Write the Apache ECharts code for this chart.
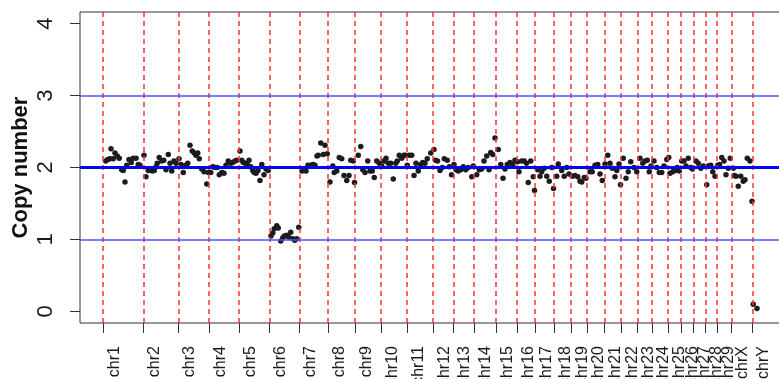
<!DOCTYPE html>
<html>
<head>
<meta charset="utf-8">
<script src="https://cdn.jsdelivr.net/npm/echarts@6/dist/echarts.min.js"></script>
<style>html,body{margin:0;padding:0;background:#fff;}#chart{width:779px;height:379px;}</style>
</head>
<body>
<div id="chart"></div>
<script>
// Chromosome names and start positions (Mb, cumulative)
const chromNames = ['chr1','chr2','chr3','chr4','chr5','chr6','chr7','chr8','chr9','chr10','chr11','chr12','chr13','chr14','chr15','chr16','chr17','chr18','chr19','chr20','chr21','chr22','chr23','chr24','chr25','chr26','chr27','chr28','chr29','chrX','chrY'];
const chromStarts = [0,161,301,424,544,665,785,899,1008,1112,1215,1319,1401,1484,1572,1655,1728,1804,1871,1935,2006,2072,2137,2196,2260,2312,2361,2409,2456,2513,2598];
const yTicks = [0,1,2,3,4];
const thinRefLines = [1,3];
const mainRefLine = [2];

// Segment positions (Mb) per chromosome
const positions = [
  [11,19,28,32,41,48,57,65,75,81,88,95,104,113,121,132,141,148],
  [164,172,181,188,197,205,212,217,225,235,243,252,261,268,275,284,292],
  [304,312,321,331,339,348,357,365,372,379,385,395,404,415,421],
  [431,439,448,457,465,475,484,492,501,511,519,528,535],
  [548,555,561,569,577,584,591,599,605,612,620,628,635,644,652,661],
  [672,679,685,695,701,711,719,725,735,743,751,759,767,775,783],
  [796,804,812,820,832,840,848,856,861,871,881,888,897],
  [908,919,925,935,945,955,964,975,984,991,1001,1006],
  [1021,1031,1039,1048,1059,1068,1077,1085,1095,1105],
  [1115,1124,1132,1141,1151,1161,1171,1177,1185,1195,1204,1210],
  [1217,1225,1235,1244,1252,1261,1271,1279,1288,1297,1311],
  [1324,1330,1338,1348,1357,1365,1377,1385,1394],
  [1404,1412,1421,1431,1441,1451,1461,1475,1481],
  [1495,1505,1515,1524,1535,1544,1551,1559,1568],
  [1581,1591,1600,1608,1617,1628,1639,1648],
  [1658,1664,1675,1685,1694,1701,1711,1721,1726],
  [1739,1748,1755,1765,1775,1785,1795,1802],
  [1815,1821,1835,1845,1855,1864],
  [1877,1888,1899,1908,1915,1925,1932],
  [1948,1957,1968,1979,1988,1997],
  [2008,2019,2028,2037,2048,2055,2064,2070],
  [2081,2092,2101,2111,2124,2135],
  [2148,2159,2168,2177,2185,2192],
  [2204,2215,2225,2235,2244,2255],
  [2263,2268,2279,2288,2297,2305],
  [2315,2324,2332,2341,2351,2358],
  [2372,2381,2391,2401],
  [2415,2421,2431,2439,2448],
  [2459,2466,2475,2484,2492,2501,2509],
  [2521,2525,2532,2541,2551,2561,2568,2577,2588,2596],
  [2601,2616]
];
// Copy number per segment
const copyNumber = [
  [2.09,2.11,2.12,2.26,2.12,2.2,2.16,2.13,1.97,1.96,1.8,2.03,2.11,2.07,2.13,2.13,2.04,2.03],
  [2.17,1.87,1.96,1.98,1.95,1.96,2.01,2.06,2.14,2.09,2.1,1.97,2.18,2.06,1.95,2.09,2.06],
  [2.12,2.04,1.93,2.03,2.06,2.31,2.23,2.2,2.17,2.2,2.12,1.98,1.94,1.77,1.93],
  [1.93,2.01,2.0,2.0,1.9,1.93,1.92,2.03,2.09,2.06,2.07,2.09,2.1],
  [2.23,2.1,2.07,2.06,2.04,2.1,2.01,1.96,1.93,1.92,1.96,1.82,2.04,1.9,1.98,1.96],
  [1.05,1.09,1.15,1.19,1.16,0.98,1.02,1.05,1.06,1.03,1.1,1.01,0.99,1.01,1.17],
  [1.95,1.97,1.95,2.03,2.03,2.04,2.03,2.16,2.17,2.34,2.18,2.31,2.19],
  [1.8,2.02,1.93,1.95,2.14,2.12,1.89,1.82,1.89,2.1,2.09,1.79],
  [2.17,2.29,1.97,1.93,2.09,1.95,1.95,1.86,2.09,2.06],
  [2.02,2.09,2.13,2.06,2.06,1.84,2.06,2.09,2.17,2.13,2.17,2.17],
  [2.03,2.17,2.17,1.89,2.06,1.95,2.04,2.07,2.06,2.12,2.2],
  [2.25,2.1,2.09,1.96,2.0,2.12,2.1,2.01,1.9],
  [2.04,1.97,1.95,1.97,2.01,1.97,2.0,1.87,2.02],
  [1.9,1.97,1.98,2.09,2.16,1.97,2.21,2.18,2.41],
  [2.25,2.04,1.85,1.98,2.04,2.07,2.04,2.1],
  [2.08,1.94,2.09,2.09,2.06,1.79,2.09,1.87,1.68],
  [1.97,1.88,1.94,1.99,1.88,1.81,2.0,1.71],
  [1.88,2.05,1.96,1.88,2.0,1.91],
  [1.88,1.89,1.87,1.81,1.8,1.86,1.85],
  [1.94,1.94,2.03,2.04,1.91,1.82],
  [2.05,2.17,2.06,1.99,1.87,1.96,2.05,1.76],
  [2.13,1.85,1.94,2.08,2.0,1.94],
  [2.13,2.06,2.09,2.1,1.94,2.02],
  [2.09,2.0,1.93,1.93,2.02,2.11],
  [2.14,1.92,1.94,1.96,2.0,1.95],
  [2.09,2.09,2.02,2.13,2.0,1.98],
  [2.09,2.06,1.99,2.02],
  [1.76,2.02,2.03,1.94,1.88],
  [2.03,2.04,2.14,2.09,1.9,1.99,2.13],
  [1.99,1.89,1.88,1.74,1.88,1.81,1.83,2.13,2.09,1.53],
  [0.1,0.04]
];

const labelShift = 46; // label offset to the right of chromosome start (axis units)
const points = [];
positions.forEach((arr, i) => arr.forEach((p, j) => points.push([p, copyNumber[i][j]])));

const labelValues = chromStarts.map(s => s + labelShift);

const chart = echarts.init(document.getElementById('chart'), null, {renderer: 'canvas'});
const font = 'Liberation Sans, Arial, Helvetica, sans-serif';

function lineSeries(items, style, z) {
  return {
    type: 'scatter', data: [], z: z, silent: true,
    markLine: {
      silent: true, symbol: ['none', 'none'], label: {show: false}, animation: false,
      lineStyle: style,
      emphasis: {disabled: true},
      data: items
    }
  };
}

chart.setOption({
  animation: false,
  backgroundColor: '#ffffff',
  grid: {left: 80, top: 12, right: -4, bottom: 56, show: true, borderColor: '#333', borderWidth: 1, backgroundColor: 'transparent', outerBoundsMode: 'none', containLabel: false},
  xAxis: {
    type: 'value', min: -92, max: 2720,
    axisLine: {show: false, onZero: false},
    splitLine: {show: false},
    axisTick: {show: true, customValues: chromStarts, length: 10, lineStyle: {color: '#333'}},
    axisLabel: {
      customValues: labelValues, rotate: 90, margin: 23, fontSize: 16, color: '#1a1a1a', fontFamily: font,
      formatter: v => { const i = labelValues.findIndex(x => Math.abs(x - v) < 0.5); return i >= 0 ? chromNames[i] : ''; }
    }
  },
  yAxis: {
    type: 'value', min: -0.16, max: 4.16,
    name: 'Copy number', nameLocation: 'middle', nameGap: 48, nameMoveOverlap: false,
    nameTextStyle: {fontSize: 22, fontWeight: 'bold', color: '#111', fontFamily: font},
    axisLine: {show: false, onZero: false},
    splitLine: {show: false},
    axisTick: {show: true, customValues: yTicks, length: 10, lineStyle: {color: '#333'}},
    axisLabel: {customValues: yTicks, rotate: 90, margin: 23, fontSize: 22, color: '#1a1a1a', fontFamily: font}
  },
  series: [
    lineSeries(chromStarts.map(s => ({xAxis: s})), {color: '#ff3030', width: 1.5, type: [5, 4]}, 1),
    lineSeries(thinRefLines.map(v => ({yAxis: v})), {color: '#5050ff', width: 1.5, type: 'solid'}, 1),
    lineSeries(mainRefLine.map(v => ({yAxis: v})), {color: '#0000ff', width: 3, type: 'solid'}, 2),
    {
      type: 'scatter', data: points, z: 3, symbolSize: 5.5,
      itemStyle: {color: '#1c1c1c', opacity: 1}
    }
  ]
});
</script>
</body>
</html>
